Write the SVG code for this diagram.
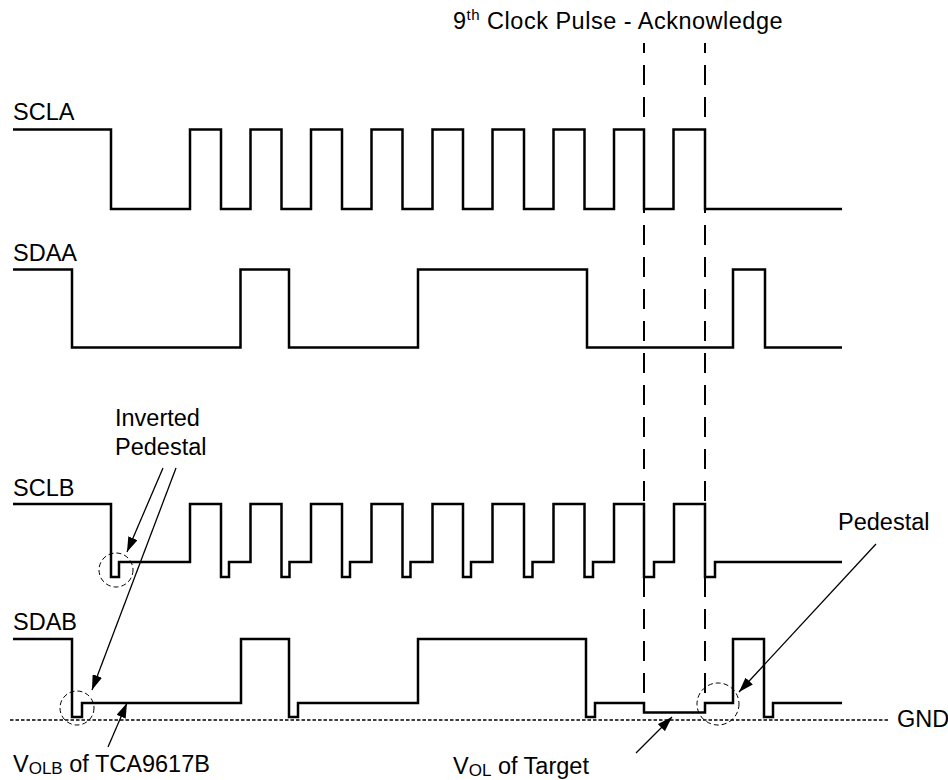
<svg xmlns="http://www.w3.org/2000/svg" width="948" height="780" viewBox="0 0 948 780">
<style>
text{font-family:"Liberation Sans",Arial,sans-serif;font-size:23.5px;fill:#000}
.wave{fill:none;stroke:#000;stroke-width:2.5;stroke-linejoin:miter;stroke-linecap:butt}
.guide{fill:none;stroke:#000;stroke-width:2;stroke-dasharray:20 12;stroke-dashoffset:10}
.gnd{fill:none;stroke:#000;stroke-width:1.5;stroke-dasharray:3.5 2}
.ring{fill:none;stroke:#000;stroke-width:1;stroke-dasharray:5 3}
.arrow{fill:none;stroke:#000;stroke-width:1.3;marker-end:url(#ah)}
</style>
<defs>
<marker id="ah" markerUnits="userSpaceOnUse" markerWidth="16" markerHeight="10" refX="15" refY="5" orient="auto">
<path d="M0,0 L15,5 L0,10 z" fill="#000"/>
</marker>
</defs>
<rect width="948" height="780" fill="#fff"/>

<g id="title">
<text x="453" y="29" font-size="24.5" letter-spacing="0.5">9<tspan font-size="15" dy="-9">th</tspan><tspan dy="9"> Clock Pulse - Acknowledge</tspan></text>
</g>

<g id="ack-window">
<line class="guide" x1="644" y1="43" x2="644" y2="712"/>
<line class="guide" x1="705" y1="43" x2="705" y2="712"/>
</g>

<g id="scla">
<text x="13" y="120">SCLA</text>
<path class="wave" d="M13,129.5 H111 V209 H190 V129.5 H221 V209 H250.5 V129.5 H281.5 V209 H311 V129.5 H342 V209 H371.5 V129.5 H402.5 V209 H432.5 V129.5 H463 V209 H492.5 V129.5 H524 V209 H553.5 V129.5 H584.5 V209 H614 V129.5 H644 V209 H673.5 V129.5 H705 V209 H842"/>
</g>

<g id="sdaa">
<text x="13" y="261">SDAA</text>
<path class="wave" d="M13,269.5 H72 V347.5 H240.5 V269.5 H289 V347.5 H418 V269.5 H587 V347.5 H733 V269.5 H765 V347.5 H842"/>
</g>

<g id="sclb">
<text x="13" y="496">SCLB</text>
<path class="wave" d="M13,504 H111 V577 H119 V562 H190 V504 H221 V577 H229 V562 H250.5 V504 H281.5 V577 H289.5 V562 H311 V504 H342 V577 H350 V562 H371.5 V504 H402.5 V577 H410.5 V562 H432.5 V504 H463 V577 H471 V562 H492.5 V504 H524 V577 H532.5 V562 H553.5 V504 H584.5 V577 H593 V562 H614 V504 H644 V577 H654 V562 H674 V504 H705 V577 H715 V562 H842"/>
</g>

<g id="sdab">
<text x="13" y="630">SDAB</text>
<path class="wave" d="M13,639 H72 V717 H82 V703 H241 V639 H289 V717 H298 V703 H418 V639 H586 V717 H595 V703 H644 V712.5 H705 V703 H733 V639 H764 V717 H773 V703 H842"/>
</g>

<g id="gnd">
<line class="gnd" x1="10" y1="720" x2="888" y2="720"/>
<text x="897" y="727">GND</text>
</g>

<g id="inverted-pedestal">
<text x="115" y="426">Inverted</text>
<text x="115" y="455">Pedestal</text>
<circle class="ring" cx="116" cy="570" r="17"/>
<circle class="ring" cx="77" cy="708" r="17"/>
</g>

<g id="pedestal">
<text x="838" y="530">Pedestal</text>
<circle class="ring" cx="718" cy="704" r="21"/>
</g>

<g id="volb-label">
<text x="13" y="772">V<tspan font-size="17" dy="2">OLB</tspan><tspan dy="-2"> of TCA9617B</tspan></text>
</g>

<g id="vol-label">
<text x="453" y="774">V<tspan font-size="17" dy="2">OL</tspan><tspan dy="-2"> of Target</tspan></text>
</g>

<g id="connectors">
<line class="arrow" x1="163" y1="468" x2="127" y2="552"/>
<line class="arrow" x1="176" y1="468" x2="92" y2="690"/>
<line class="arrow" x1="108" y1="747" x2="127" y2="703"/>
<line class="arrow" x1="636" y1="753" x2="672" y2="717"/>
<line class="arrow" x1="876" y1="544" x2="739" y2="692"/>
</g>
</svg>
